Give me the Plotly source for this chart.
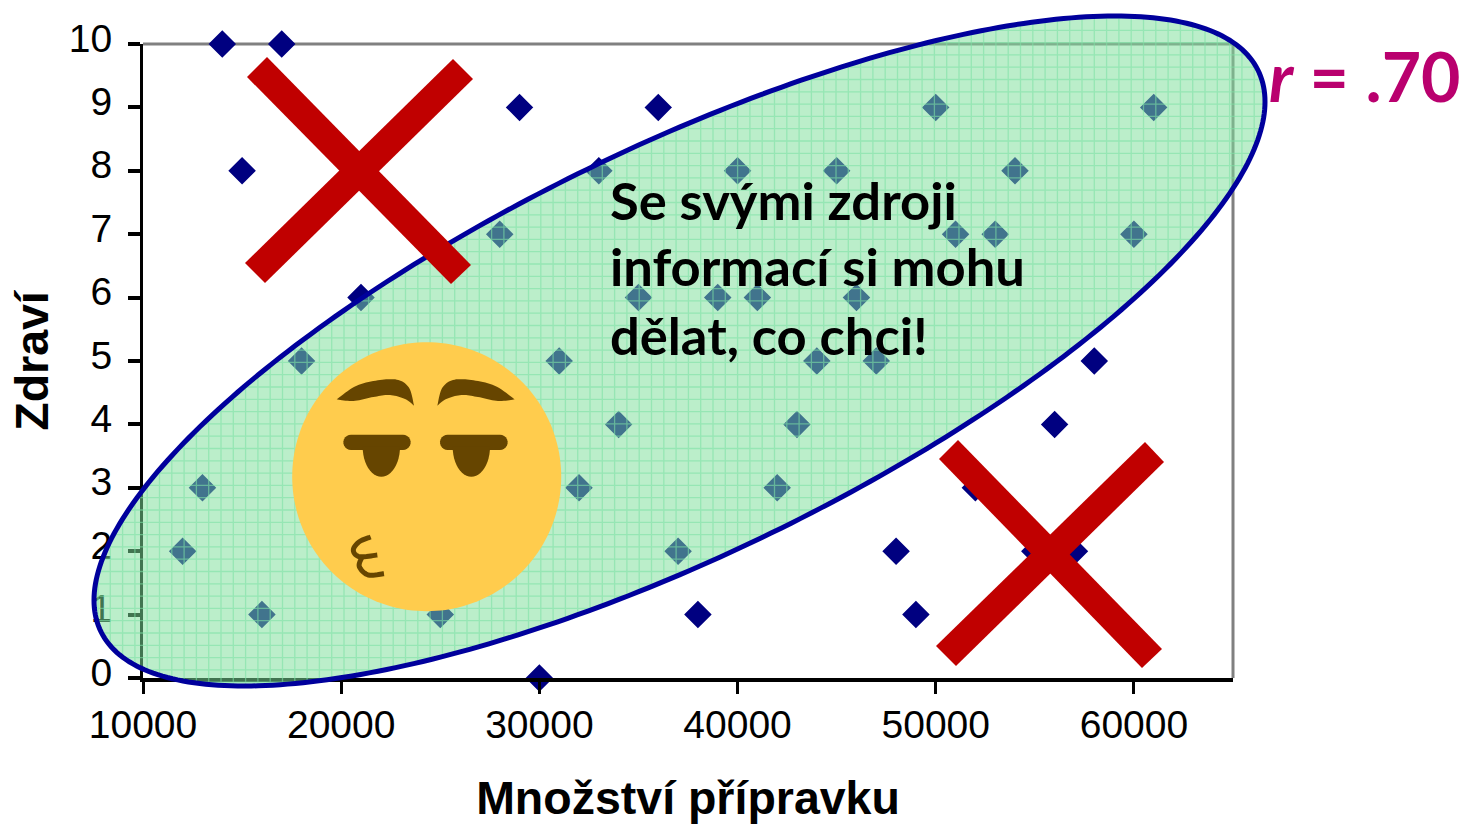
import numpy as np
import plotly.graph_objects as go

# ---- data ----
mnozstvi = [14000,17000,15000,21000,29000,36000,50000,61000,33000,40000,45000,54000,28000,51000,53000,60000,
            21000,35000,39000,41000,46000,18000,31000,44000,47000,58000,34000,43000,56000,13000,32000,42000,52000,
            12000,37000,48000,55000,57000,16000,25000,38000,49000,30000]
zdravi   = [10,10,8,8,9,9,9,9,8,8,8,8,7,7,7,7,
            6,6,6,6,6,5,5,5,5,5,4,4,4,3,3,3,3,
            2,2,2,2,2,1,1,1,1,0]
x_ticks = [10000,20000,30000,40000,50000,60000]
y_ticks = list(range(0,11))
x_title = "Množství přípravku"
y_title = "Zdraví"
message = ["Se svými zdroji","informací si mohu","dělat, co chci!"]

# ---- overlay helpers (page pixel -> paper) ----
L,R,T,B = 143,1233,44,678
PAGE_W,PAGE_H = 1463,824
OFF = 0
px = lambda x:(x-L)/(R-L)
py = lambda y:(B-y)/(B-T)
def path(pts,close=True):
    s="M"+" L".join(f"{px(a):.5f},{py(b):.5f}" for a,b in pts)
    return s+(" Z" if close else "")
def spline(pts,closed=False,n=10):
    p=[np.array(q,float) for q in pts]
    out=[]
    N=len(p)
    rng=range(N) if closed else range(N-1)
    for i in rng:
        if closed:
            p0,p1,p2,p3=p[(i-1)%N],p[i],p[(i+1)%N],p[(i+2)%N]
        else:
            p0,p1,p2,p3=p[max(i-1,0)],p[i],p[i+1],p[min(i+2,N-1)]
        for t in np.linspace(0,1,n,endpoint=False):
            out.append(0.5*((2*p1)+(-p0+p2)*t+(2*p0-5*p1+4*p2-p3)*t*t+(-p0+3*p1-3*p2+p3)*t**3))
    if not closed: out.append(p[-1])
    return [tuple(q) for q in out]
z1=lambda pts:[(280+a/3,335+b/3) for a,b in pts]

shapes=[]
# gray top/right frame
shapes.append(dict(type="line",xref="paper",yref="paper",x0=0,x1=1,y0=1,y1=1,line=dict(color="#808080",width=3),layer="below"))
shapes.append(dict(type="line",xref="paper",yref="paper",x0=1,x1=1,y0=0,y1=1,line=dict(color="#808080",width=3),layer="below"))

# ellipse
cx,cy,Wx,Hy,rho=679.5,351,585.5,335,0.744
phi=np.arccos(rho)
t=np.linspace(0,2*np.pi,361)
ell=list(zip(cx+Wx*np.cos(t),cy-Hy*np.cos(t-phi)))
shapes.append(dict(type="path",xref="paper",yref="paper",path=path(ell),fillcolor="rgba(124,223,154,0.52)",line=dict(width=0)))
# woven grid of the fill
seg=[]
for gx in np.arange(94+4,1265,12.3):
    u=(gx-cx)/Wx
    d=np.sqrt((1-rho**2)*(1-u*u))
    seg.append(path([(gx,cy-Hy*(rho*u+d)),(gx,cy-Hy*(rho*u-d))],False))
for gy in np.arange(16+2,686,12.3):
    v=(cy-gy)/Hy
    d=np.sqrt((1-rho**2)*(1-v*v))
    seg.append(path([(cx+Wx*(rho*v-d),gy),(cx+Wx*(rho*v+d),gy)],False))
shapes.append(dict(type="path",xref="paper",yref="paper",path=" ".join(seg),line=dict(color="rgba(125,225,165,0.6)",width=1.3)))
shapes.append(dict(type="path",xref="paper",yref="paper",path=path(ell),line=dict(color="#00009C",width=5)))

# face
BROWN="#664500"
c=[(426.7+134.5*np.cos(a),476.7+134.5*np.sin(a)) for a in np.linspace(0,2*np.pi,181)]
shapes.append(dict(type="path",xref="paper",yref="paper",path=path(c),fillcolor="#FFCC4D",line=dict(width=0)))
def poly(pts):
    shapes.append(dict(type="path",xref="paper",yref="paper",path=path(pts),fillcolor=BROWN,line=dict(width=0)))
def stroke(pts,w):
    shapes.append(dict(type="path",xref="paper",yref="paper",path=path(pts,False),line=dict(color=BROWN,width=w)))
brow_top=[(170,193),(230,152),(300,135),(355,135),(388,160),(402,212)]
brow_bot=[(402,212),(375,192),(330,180),(280,186),(220,198),(170,193)]
poly(z1(spline(brow_top)+spline(brow_bot)))
poly(z1([(874-a,b) for a,b in spline(brow_top)+spline(brow_bot)]))
for x0,x1 in [(190,392),(480,683)]:
    a=np.linspace(0,np.pi,12)
    r=23
    ym=322
    pts=[(x1-r+r*np.sin(q),ym-r*np.cos(q)) for q in a]+[(x0+r-r*np.sin(q),ym+r*np.cos(q)) for q in a]
    poly(z1(pts))
for x0,x1 in [(248,360),(518,630)]:
    m=(x0+x1)/2; hw=(x1-x0)/2
    a=np.linspace(0,np.pi,25)
    poly(z1([(m+hw*np.cos(q),335+90*np.sin(q)) for q in a]))
stroke(z1(spline([(272,606),(238,620),(220,645),(238,665),(292,660)])),5)
stroke(z1(spline([(245,668),(238,695),(265,720),(312,716)])),5)

# crosses
RED="#C00000"
for arm in [[(267,57),(247,77),(451,284),(471,265)],[(453,59),(473,79),(265,283),(245,263)],
            [(958,440),(939,459),(1142,668),(1162,649)],[(1145,442),(1164,462),(956,666),(936,646)]]:
    shapes.append(dict(type="path",xref="paper",yref="paper",path=path(arm),fillcolor=RED,line=dict(width=0)))

fig=go.Figure(go.Scatter(x=mnozstvi,y=zdravi,mode="markers",cliponaxis=False,
    marker=dict(symbol="diamond",size=19,color="#000080",line=dict(width=2,color="#000080")),showlegend=False))

annots=[]
for s,y in zip(message,[199,265,334]):
    annots.append(dict(xref="paper",yref="paper",x=px(608),y=py(y),xanchor="left",yanchor="middle",showarrow=False,
        text=f"<b>{s}</b>",font=dict(family="Lato",size=52.5,color="#000000")))
annots.append(dict(xref="paper",yref="paper",x=px(1267),y=py(75),xanchor="left",yanchor="middle",showarrow=False,
    text="<b><i>r</i> = .70</b>",font=dict(family="Lato",size=68,color="#B9006E")))

tick=dict(family="Liberation Sans",size=39,color="#000000")
fig.update_layout(width=PAGE_W-OFF,height=PAGE_H-OFF,autosize=False,paper_bgcolor="white",plot_bgcolor="white",
    margin=dict(l=L-OFF,r=PAGE_W-R,t=T-OFF,b=PAGE_H-B,autoexpand=False),shapes=shapes,annotations=annots,showlegend=False,
    xaxis=dict(range=[10000,65000],tickvals=x_ticks,ticktext=[str(v) for v in x_ticks],showgrid=False,zeroline=False,
        showline=True,linecolor="#000000",linewidth=4,ticks="outside",ticklen=12,tickwidth=3,tickcolor="#000000",
        tickfont=tick,ticklabelstandoff=-3,automargin=False,
        title=dict(text=f"<b>{x_title}</b>",font=dict(family="Liberation Sans",size=46.5,color="#000000"),standoff=41)),
    yaxis=dict(range=[0,10],tickvals=y_ticks,showgrid=False,zeroline=False,
        showline=True,linecolor="#000000",linewidth=3,ticks="outside",ticklen=12,tickwidth=4,tickcolor="#000000",
        tickfont=tick,ticklabelstandoff=8,ticklabelshift=-6,automargin=False,
        title=dict(text=f"<b>{y_title}</b>",font=dict(family="Liberation Sans",size=46.5,color="#000000"),standoff=6)))
fig.write_html("out.html",config=dict(displayModeBar=False),
               post_script="document.body.style.margin='0';document.documentElement.style.overflow='hidden';")
